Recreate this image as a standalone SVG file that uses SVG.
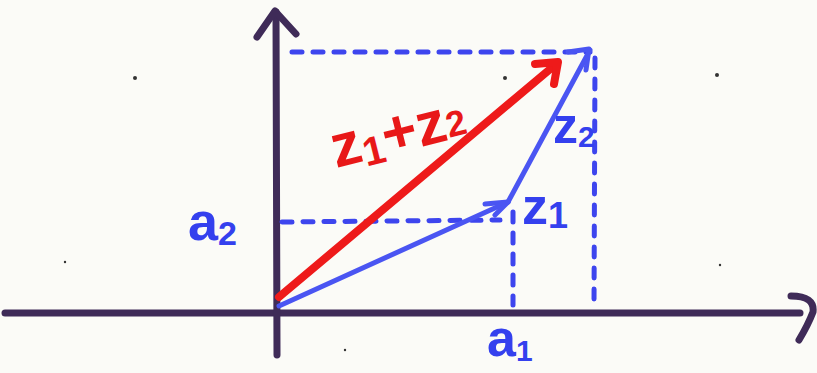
<svg xmlns="http://www.w3.org/2000/svg" width="817" height="373" viewBox="0 0 817 373">
<defs>
<style>
.axis{stroke:#3f2b58;stroke-width:7;fill:none;stroke-linecap:round;stroke-linejoin:round}
.dot{stroke:#3d45ee;stroke-width:5;fill:none;stroke-dasharray:10 11;stroke-linecap:round}
.vec{stroke:#4a55f2;stroke-width:5;fill:none;stroke-linecap:round;stroke-linejoin:round}
.red{stroke:#ee1a1a;stroke-width:8;fill:none;stroke-linecap:round;stroke-linejoin:round}
.bl{fill:#3440ee;font-family:"Liberation Sans",Arial,sans-serif;font-weight:bold}
.rd{fill:#e81818;font-family:"Liberation Sans",Arial,sans-serif;font-weight:bold}
</style>
</defs>
<rect width="817" height="373" fill="#fbfbf7"/>
<g id="dots-bg" fill="#333">
<circle cx="135" cy="78" r="2"/><circle cx="505" cy="78" r="2"/><circle cx="717" cy="75" r="2"/>
<circle cx="65" cy="262" r="1.2"/><circle cx="720" cy="265" r="1.2"/><circle cx="345" cy="350" r="1.2"/>
</g>
<g id="axes">
<path class="axis" d="M5 313 L800 313"/>
<path class="axis" d="M791 296 Q815 296 813 312 Q808 325 799 340"/>
<path class="axis" d="M277 355 L276 12"/>
<path class="axis" d="M257 37 L275 11 L296 34"/>
</g>
<g id="projections">
<path class="dot" d="M292 52 L590 52"/>
<path class="dot" d="M595 58 L594 306"/>
<path class="dot" d="M282 222 L500 220"/>
<path class="dot" d="M513 212 L513 305"/>
</g>
<g id="connectors">
<path class="vec" d="M279 306 L508 202"/>
<path class="vec" d="M485 204 L508 202 L495 215"/>
<path class="vec" d="M508 202 L590 50"/>
<path class="vec" d="M568 52 L589 49 L586 70"/>
<path class="red" d="M279 297 L555 65"/>
<path class="red" d="M535 64 L558 62 L554 84" stroke-width="9"/>
</g>
<g id="labels">
<text class="bl" x="188" y="240" font-size="54">a<tspan font-size="34" dy="5">2</tspan></text>
<text class="bl" x="522" y="224" font-size="52">z<tspan font-size="36" dy="4">1</tspan></text>
<text class="bl" x="553" y="143" font-size="50">z<tspan font-size="30" dy="4">2</tspan></text>
<text class="bl" x="487" y="356" font-size="52">a<tspan font-size="30" dy="5">1</tspan></text>
<text class="rd" transform="translate(336,168) rotate(-14)" font-size="60">z<tspan font-size="40" dy="6">1</tspan><tspan dy="-6">+z</tspan><tspan font-size="36" dy="-2">2</tspan></text>
</g>
</svg>
